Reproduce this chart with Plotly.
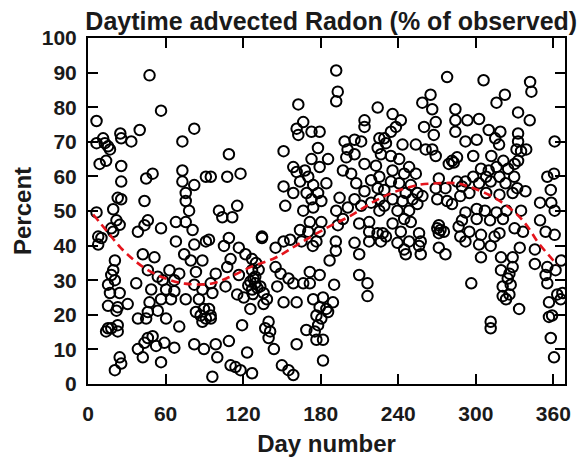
import plotly.graph_objects as go

# ---- data (day number, percent) ----
days = [
    6.6, 6.6, 11.7, 13, 15.5, 17, 9, 14, 25.7, 25, 25.7, 25.7, 23, 25.7, 19.5, 6.6, 22, 18, 24.5, 19.5,
    7.9, 10.4, 7.9, 20.8, 19.5, 18, 20.8, 15.5, 17, 24.5, 15.5, 23, 22, 30.7, 23, 15.5, 18, 14, 23, 24.5,
    25.7, 20.8,
    47.6, 56.5, 40, 33.5, 82.2, 73, 45, 50, 73, 73, 82.2, 91.2, 75.6, 75.6, 43.7, 78.2, 68, 75.6, 46.3, 43.7,
    38.6, 56.5, 80.9, 68, 91.2, 82.2, 42.4, 51.4, 74.4, 79.5, 88.5, 46.3, 63, 70.6, 83.5, 54, 57.8, 66.8,
    37.3, 48.9, 82.2, 60.4, 66.8, 88.5, 47.6, 56.5, 64.2, 75.6, 85.8, 89.7, 46.3, 54, 45, 60.4, 38.6, 83.5,
    87.1, 91.2, 88.5, 70.6, 95, 46.3, 50, 43.7, 59.1, 52.7, 38.6, 42.4, 66.8, 56.5, 82.2, 89.7, 96.2,
    162.7, 161.4, 162.7, 109, 151.3, 107.7, 118, 95, 158.8, 161.4, 151.3, 158.8, 152.6, 101.3, 115.4, 111.6,
    103.9, 93.6, 109, 105.2, 116.7, 121.8, 134.6, 134.6, 151.3, 156.4, 145.1, 126.9, 110.3, 107.7, 98.8,
    116.7, 126.9, 129.4, 125.6, 129.4, 133.3, 126.9, 145.1, 149, 155.1, 158.8, 146.4, 106.4, 94.9, 96.2,
    115.4, 120.5, 135.8, 138.4, 135.8, 151.3, 125.6, 93.6, 94.9, 139.7, 119.2, 137.1, 140.9, 139.7, 98.8,
    109, 161.4, 143.8, 123.1, 100, 110.3, 114.1, 118, 126.9, 150, 155.1, 158.8,
    128, 131, 127.5, 132, 124, 130,
    192, 193.2, 192, 224.1, 213.9, 213.9, 166.5, 172.9, 179.2, 198.5, 206.2, 211.3, 225.4, 177.9, 200.8,
    172.9, 185.7, 206.2, 199.8, 213.9, 167.8, 179.2, 222.8, 197.2, 203.6, 207.5, 164, 170.4, 174.2, 184.4,
    219, 224.1, 169.1, 178, 213.9, 172.9, 180.5, 194.6, 206.2, 219, 192, 201, 211.3, 166.5, 174.2, 225.4,
    197.2, 193.3, 209.8, 217.5, 171.6, 180.5, 164, 170.4, 179.2, 217.5, 224, 176.7, 165.2, 191.7, 206.2,
    217.5, 173.9, 191.7, 209.8, 186.9, 171.6, 179.2, 166.5, 171.6, 190.4, 209.8, 216.2, 216.2, 161.4,
    174.2, 181.8, 189.5, 179.2, 184.4, 185.7, 176.7, 180.5, 178, 168.9, 175.4, 176.7, 181.8, 181.8,
    277.8, 265, 258.6, 266.3, 235.6, 242, 238.2, 234.3, 284.2, 284.2, 284.2, 269, 260, 267.5, 229.2, 230.5,
    243.3, 253.6, 261.2, 266.3, 269, 292, 224.1, 226.6, 234.3, 240.7, 248.4, 244.6, 235.6, 253.6, 279.1,
    281.6, 285.5, 283, 225.4, 234.3, 240.7, 249.7, 271.4, 269, 285.5, 289.3, 276.5, 229.2, 245.8, 254.8,
    225.4, 235.6, 243.3, 251, 258.7, 270.2, 277.8, 288, 229.2, 254.8, 281.6, 239.4, 248.4, 244.6, 235.6,
    249.7, 289.3, 286.7, 242, 228, 230.5, 226.6, 239.4, 248.4, 256.1, 257.4, 270.2, 272.7, 271.4, 275.3,
    271.4, 288, 256.1, 244.6, 245.8, 257.4, 271.4, 276.5,
    306, 342, 343, 322.5, 316, 332.7, 341.7, 302.5, 293.5, 310, 319, 300.7, 315, 332.7, 332.7, 318, 361,
    331.5, 339, 335, 298, 312, 321.3, 316, 330, 332.7, 304, 310, 325, 298, 308, 318.3, 329.7, 355.3, 360.5,
    292, 302.5, 311.5, 323, 332, 338.4, 358, 349.7, 358.4, 361, 295, 308, 318.3, 328.5, 300.7, 307, 316,
    323.7, 292, 300.7, 311, 321, 335, 349.7, 330, 336.5, 354, 361, 295, 304, 314.5, 318.3, 292, 302.5,
    311.5, 334, 345.7, 304, 319.5, 328.5, 345.7, 366, 355.3, 361.7, 319.5, 326, 328.5, 324.7, 354, 355.3,
    296.5, 320.8, 327, 320.8, 326, 323.4, 333.5, 363, 367, 365.7, 356.6, 359, 356.6, 311.5, 311.5, 358,
    360.5,
]
percent = [
    76, 69.6, 71, 69.6, 68.7, 67.8, 63.6, 64.5, 71, 72.4, 63, 58.5, 53.8, 53.4, 50.5, 49.6, 47.3, 45, 46, 44,
    42.6, 42.2, 40.3, 35.7, 32.9, 31.5, 30, 28.7, 26.3, 26.3, 22.6, 22.2, 21.2, 23.1, 17, 16.1, 16.1, 15.2,
    15.2, 7.7, 5.9, 4,
    89.2, 79, 73.4, 70.1, 73.8, 70.1, 59.4, 60.8, 61.7, 58.5, 57.5, 59.9, 55.2, 52.9, 52.9, 50.1, 46.8, 46.8,
    47.3, 45.9, 44, 45, 44.5, 41.2, 41.2, 40.3, 37.5, 36.6, 37.5, 35.7, 35.7, 32.9, 32.9, 31.9, 32.4, 31, 30,
    30, 29.1, 27.3, 28.7, 27.3, 26.8, 27.3, 23.6, 24.5, 24.5, 24.5, 24.5, 21.7, 20.8, 21.2, 18.9, 18.9, 18.9,
    20.8, 19.8, 18.9, 18, 16.6, 18.9, 13.3, 13.8, 11.9, 11.9, 11, 10.1, 7.7, 10.5, 6.3, 11.5, 10.1, 2.1,
    80.8, 73.8, 72, 66.4, 67.3, 59.9, 60.8, 59.9, 62.7, 61.3, 57.1, 55.2, 51.5, 50.1, 51.5, 48.2, 48.2, 41.7,
    42.2, 39.9, 39.4, 37.5, 42.6, 42.2, 41.2, 41.7, 39.4, 36.1, 36.1, 33.8, 31.9, 31.5, 32.9, 31, 29.6, 29.1,
    28.2, 27.3, 33.8, 31.9, 30.5, 29.1, 28.2, 28.2, 29.1, 26.3, 25.9, 25, 26.3, 24.5, 23.1, 23.6, 21.7, 21.7,
    19.8, 18, 17, 16.1, 15.2, 13.3, 11.5, 12.4, 11.5, 10.1, 9.1, 7.7, 5.4, 4.9, 4, 3.1, 5.4, 4, 2.6,
    30.5, 27.8, 26, 33, 28.5, 35,
    90.6, 84.5, 81.7, 79.9, 76.2, 74.3, 75.7, 72.9, 72.9, 70.1, 70.6, 70.1, 71, 68.2, 67.8, 65, 65, 66.4, 65.5,
    63.6, 61.7, 62.7, 63.1, 61.7, 60.8, 58, 58.5, 59.9, 57.5, 58, 58.9, 56.6, 55.2, 55.2, 55.7, 53.4, 52.9,
    53.8, 53.4, 52.4, 50.1, 51, 51.5, 50.1, 51, 50.1, 47.7, 45.9, 46.4, 46.8, 46.8, 46.8, 44.5, 44, 44, 44,
    43.6, 41.2, 41.2, 41.2, 40.8, 41.2, 39.9, 38.5, 37.5, 35.7, 32.4, 31.5, 29.1, 29.1, 28.7, 31.5, 29.1,
    25.4, 23.6, 24.5, 25, 23.6, 22.2, 21.7, 20.8, 19.8, 18.9, 17, 15.6, 15.2, 12.8, 12.8, 6.8,
    88.7, 83.6, 81.3, 79.4, 78, 76.2, 74.3, 72.9, 79.4, 76.2, 72.9, 75.7, 74.3, 72, 71, 69.6, 69.2, 69.2,
    67.8, 67.8, 65.9, 70.1, 68.2, 66.4, 65.9, 65, 62.7, 60.8, 61.7, 60.8, 63.6, 64.5, 65.5, 64, 59.9, 58.5,
    58, 57.5, 59.4, 56.6, 58.5, 57.1, 56.6, 56.1, 55.2, 55.2, 53.4, 53.4, 52.9, 53.4, 54.3, 53.4, 52.9, 54.3,
    51.5, 52, 52, 50.1, 50.1, 47.7, 46.4, 46.8, 47.3, 45.5, 44, 43.6, 42.6, 41.2, 40.8, 41.2, 43.6, 41.2, 45,
    44.5, 43.6, 44, 45.9, 42.6, 39.9, 38.9, 37.5, 37.5, 39.4, 37.5,
    87.8, 87.3, 84.5, 83.6, 81.3, 78.5, 76.2, 76.6, 76.2, 73.4, 72.9, 70.6, 71, 72.4, 70.1, 69.2, 70.1,
    67.8, 67.8, 67.3, 65.9, 65.9, 64.5, 62.7, 63.6, 64.5, 62.2, 61.7, 62.2, 59.9, 59.9, 59.9, 59.9, 59.9,
    60.8, 58.5, 58, 58.5, 58, 56.6, 55.7, 56.1, 52.4, 52.4, 50.1, 55.2, 55.2, 54.7, 55.2, 50.6, 50.1, 49.6,
    50.1, 49.6, 47.7, 47.3, 47.7, 50.1, 47.3, 45, 44, 44, 43.1, 44, 43.1, 42.6, 43.6, 41.2, 40.3, 39.9, 39.4,
    38.9, 36.6, 36.6, 36.6, 34.7, 35.7, 33.8, 32.9, 32.9, 31.9, 33.8, 30.5, 31.5, 29.1, 29.1, 28.2, 28.7,
    25.4, 25.9, 24.5, 21.7, 25.9, 26.3, 24.5, 23.6, 19.8, 19.4, 18, 16.1, 13.3, 7.7,
]

# ---- smoothed seasonal trend (red dashed) ----
trend_day = [4, 15, 25, 35, 46, 60, 75, 95, 110, 127, 145, 163, 184, 203, 220, 235, 255, 270, 285, 295,
             310, 322, 333, 341, 348, 356, 363]
trend_val = [49, 44, 39.5, 36, 33, 30.5, 29, 29, 31, 34, 36.5, 40.5, 45, 48.6, 52.5, 55.2, 57.5, 58, 58,
             57, 54.7, 52, 48.6, 45, 41, 37.4, 34.5]

x_ticks = [0, 60, 120, 180, 240, 300, 360]
y_ticks = [0, 10, 20, 30, 40, 50, 60, 70, 80, 90, 100]

FONT = "Liberation Sans, Arial, sans-serif"

fig = go.Figure()
fig.add_trace(go.Scatter(
    x=days, y=percent, mode="markers",
    marker=dict(symbol="circle-open", size=10.5, color="black", line=dict(width=2, color="black")),
    hoverinfo="x+y",
))
fig.add_trace(go.Scatter(
    x=trend_day, y=trend_val, mode="lines",
    line=dict(color="#e4141c", width=2.6, dash="8px,5px", shape="spline", smoothing=1.0),
))

axis_common = dict(
    showgrid=False, zeroline=False, showline=True, linecolor="black", linewidth=2,
    mirror="ticks", ticks="inside", ticklen=10, tickwidth=2, tickcolor="black",
    tickfont=dict(family=FONT, size=21, color="#1a1a1a", weight="bold"),
)

fig.update_layout(
    width=583, height=465,
    margin=dict(l=88, r=14, t=38, b=69),
    plot_bgcolor="white", paper_bgcolor="white",
    showlegend=False,
    title=dict(
        text="Daytime advected Radon (% of observed)",
        x=0.51, xanchor="center", xref="paper",
        y=1 - 21 / 465, yanchor="middle", yref="container",
        font=dict(family=FONT, size=25, color="#1a1a1a", weight="bold"),
    ),
    xaxis=dict(
        range=[0, 369], tickvals=x_ticks, ticktext=[str(v) for v in x_ticks],
        ticklabelstandoff=10,
        title=dict(text="Day number", standoff=11,
                   font=dict(family=FONT, size=24, color="#1a1a1a", weight="bold")),
        **axis_common,
    ),
    yaxis=dict(
        range=[0, 100], tickvals=y_ticks, ticktext=[str(v) for v in y_ticks],
        ticklabelstandoff=5,
        title=dict(text="Percent", standoff=3,
                   font=dict(family=FONT, size=24, color="#1a1a1a", weight="bold")),
        **axis_common,
    ),
)

fig.write_html("out.html")
